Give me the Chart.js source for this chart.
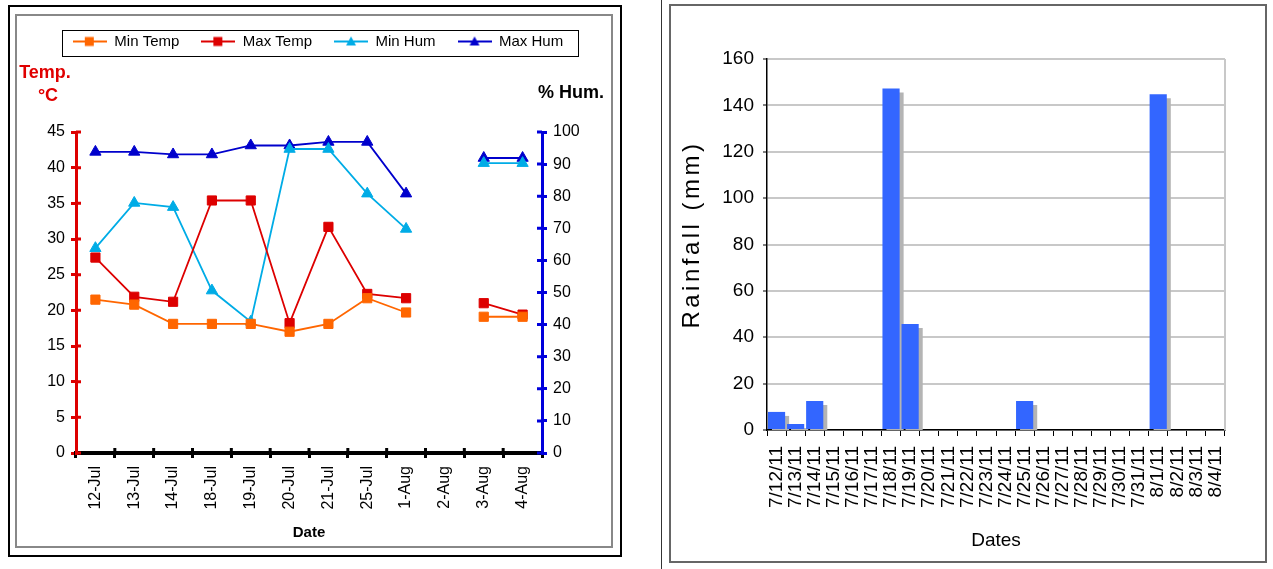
<!DOCTYPE html>
<html>
<head>
<meta charset="utf-8">
<script src="https://cdn.jsdelivr.net/npm/chart.js@4.4.9/dist/chart.umd.min.js"></script>
<style>
  body { margin: 0; background: #fff; width: 1273px; height: 569px; position: relative; overflow: hidden; }
  .box { position: absolute; box-sizing: border-box; }
  #leftOuter { left: 8px; top: 5px; width: 614px; height: 552px; border: 2px solid #000; }
  #leftInner { left: 15px; top: 14px; width: 598px; height: 534px; border: 2px solid #888; }
  #rightLine { left: 661px; top: 0; width: 1px; height: 569px; background: #333; }
  #rightInner { left: 669px; top: 4px; width: 598px; height: 559px; border: 2px solid #666; }
  #tempWrap { position: absolute; left: 0; top: 0; }
  #rainWrap { position: absolute; left: 671px; top: 6px; }
</style>
</head>
<body>
<div class="box" id="leftOuter"></div>
<div class="box" id="leftInner"></div>
<div class="box" id="rightLine"></div>
<div class="box" id="rightInner"></div>
<div id="tempWrap"><canvas id="tempChart" width="630" height="569"></canvas></div>
<div id="rainWrap"><canvas id="rainChart" width="594" height="555"></canvas></div>
<script>
// left chart: temperature / humidity
const tempDates = ["12-Jul", "13-Jul", "14-Jul", "18-Jul", "19-Jul", "20-Jul", "21-Jul", "25-Jul", "1-Aug", "2-Aug", "3-Aug", "4-Aug"];
const minTemp = [21.5, 20.8, 18.1, 18.1, 18.1, 17.0, 18.1, 21.7, 19.7, null, 19.1, 19.1];
const maxTemp = [27.4, 21.9, 21.2, 35.4, 35.4, 18.2, 31.7, 22.3, 21.7, null, 21.0, 19.4];
const minHum = [63.8, 77.9, 76.6, 50.6, 40.9, 94.7, 94.7, 80.8, 69.8, null, 90.3, 90.3];
const maxHum = [93.8, 93.8, 93.0, 93.0, 95.8, 95.8, 96.9, 96.9, 80.8, null, 91.9, 91.9];
const tempTitle = ["Temp.", "°C"];
const humTitle = "% Hum.";

// right chart: rainfall
const rainDates = ["7/12/11", "7/13/11", "7/14/11", "7/15/11", "7/16/11", "7/17/11", "7/18/11", "7/19/11",
  "7/20/11", "7/21/11", "7/22/11", "7/23/11", "7/24/11", "7/25/11", "7/26/11", "7/27/11", "7/28/11",
  "7/29/11", "7/30/11", "7/31/11", "8/1/11", "8/2/11", "8/3/11", "8/4/11"];
const rainfall = [7.8, 2.6, 12.5, 0, 0, 0, 147.3, 45.7, 0, 0, 0, 0, 0, 12.5, 0, 0, 0, 0, 0, 0, 144.8, 0, 0, 0];

const ORANGE = "rgb(255,102,0)";
const RED = "rgb(221,0,0)";
const LIGHTBLUE = "rgb(0,172,230)";
const DARKBLUE = "rgb(0,0,204)";
const AXISBLUE = "rgb(0,0,220)";

Chart.defaults.font.family = "'Liberation Sans', Arial, sans-serif";
Chart.defaults.color = "#000";

function legendIcon(color, style) {
  const c = document.createElement("canvas");
  c.width = 34;
  c.height = 14;
  const g = c.getContext("2d");
  g.strokeStyle = color;
  g.lineWidth = 2;
  g.beginPath();
  g.moveTo(0, 7);
  g.lineTo(34, 7);
  g.stroke();
  g.fillStyle = color;
  if (style === "rect") {
    g.fillRect(12, 2.5, 9, 9);
  } else {
    g.beginPath();
    g.moveTo(17, 2);
    g.lineTo(22, 11);
    g.lineTo(12, 11);
    g.closePath();
    g.fill();
  }
  return c;
}

const icons = [legendIcon(ORANGE, "rect"), legendIcon(RED, "rect"), legendIcon(LIGHTBLUE, "tri"), legendIcon(DARKBLUE, "tri")];

// box around the legend row
const legendFrame = {
  id: "legendFrame",
  afterDraw(chart) {
    const boxes = chart.legend.legendHitBoxes;
    if (!boxes || !boxes.length) return;
    const first = boxes[0];
    const last = boxes[boxes.length - 1];
    const cy = first.top + first.height / 2 + 1;
    const ctx = chart.ctx;
    ctx.save();
    ctx.strokeStyle = "#000";
    ctx.lineWidth = 1;
    ctx.strokeRect(Math.round(first.left - 11) + 0.5, Math.round(cy - 13) + 0.5, Math.round(last.left + last.width + 15 - (first.left - 11)), 26);
    ctx.restore();
  }
};

// titles sitting above the two value axes
const axisHeads = {
  id: "axisHeads",
  afterDraw(chart) {
    const ctx = chart.ctx;
    const a = chart.chartArea;
    ctx.save();
    ctx.font = "bold 18px 'Liberation Sans', Arial, sans-serif";
    ctx.textAlign = "center";
    ctx.textBaseline = "middle";
    ctx.fillStyle = "rgb(224,0,0)";
    ctx.fillText(tempTitle[0], a.left - 31, a.top - 59);
    ctx.fillText(tempTitle[1], a.left - 28, a.top - 36);
    ctx.fillStyle = "#000";
    ctx.fillText(humTitle, a.right + 29, a.top - 39);
    ctx.restore();
  }
};

// tick marks on the inner side of the axes
const innerTicks = {
  id: "innerTicks",
  beforeDatasetsDraw(chart) {
    const ctx = chart.ctx;
    const { x, y, y1 } = chart.scales;
    ctx.save();
    ctx.lineWidth = 3;
    ctx.beginPath();
    ctx.strokeStyle = RED;
    y.ticks.forEach((t, i) => {
      const py = y.getPixelForTick(i);
      ctx.moveTo(y.right, py);
      ctx.lineTo(y.right + 5, py);
    });
    ctx.stroke();
    ctx.beginPath();
    ctx.strokeStyle = AXISBLUE;
    y1.ticks.forEach((t, i) => {
      const py = y1.getPixelForTick(i);
      ctx.moveTo(y1.left - 5, py);
      ctx.lineTo(y1.left, py);
    });
    ctx.stroke();
    ctx.beginPath();
    ctx.strokeStyle = "#000";
    const n = x.ticks.length;
    for (let i = 1; i < n; i++) {
      const px = x.left + (i * x.width) / n;
      ctx.moveTo(px, x.top - 5);
      ctx.lineTo(px, x.top);
    }
    ctx.stroke();
    ctx.restore();
  }
};

function lineSet(label, data, color, style, axis) {
  return {
    label: label,
    data: data,
    yAxisID: axis,
    borderColor: color,
    backgroundColor: color,
    borderWidth: 1.8,
    pointStyle: style,
    pointRadius: 6.5,
    pointBorderWidth: 1,
    pointBorderColor: color,
    pointBackgroundColor: color,
    spanGaps: false,
    tension: 0
  };
}

new Chart(document.getElementById("tempChart"), {
  type: "line",
  data: {
    labels: tempDates,
    datasets: [
      lineSet("Min Temp", minTemp, ORANGE, "rect", "y"),
      lineSet("Max Temp", maxTemp, RED, "rect", "y"),
      lineSet("Min Hum", minHum, LIGHTBLUE, "triangle", "y1"),
      lineSet("Max Hum", maxHum, DARKBLUE, "triangle", "y1")
    ]
  },
  options: {
    responsive: false,
    animation: false,
    layout: { padding: { top: 12, left: 18, right: 12, bottom: 16 } },
    plugins: {
      legend: {
        position: "top",
        labels: {
          usePointStyle: true,
          pointStyleWidth: 34,
          padding: 22,
          font: { size: 15 },
          color: "#000",
          generateLabels(chart) {
            const items = Chart.defaults.plugins.legend.labels.generateLabels(chart);
            items.forEach((it, i) => { it.pointStyle = icons[i]; });
            return items;
          }
        }
      },
      title: { display: true, text: "", weight: 500, font: { size: 10 }, padding: { top: 61, bottom: 0 } },
      tooltip: { enabled: false }
    },
    scales: {
      x: {
        offset: true,
        grid: { display: true, drawOnChartArea: false, offset: true, tickLength: 5, color: "#000", lineWidth: 3 },
        border: { color: "#000", width: 4 },
        ticks: { autoSkip: false, minRotation: 90, maxRotation: 90, padding: 8, font: { size: 16 }, color: "#000" },
        title: { display: true, text: "Date", font: { size: 15, weight: "bold" }, color: "#000", padding: { top: 0, bottom: 11 } },
        afterFit(s) { s.height = 100; }
      },
      y: {
        position: "left",
        min: 0,
        max: 45,
        ticks: { stepSize: 5, padding: 6, font: { size: 16 }, color: "#000" },
        grid: { drawOnChartArea: false, tickLength: 5, color: RED, lineWidth: 3 },
        border: { color: RED, width: 3 },
        afterFit(s) { s.width = 58; }
      },
      y1: {
        position: "right",
        min: 0,
        max: 100,
        ticks: { stepSize: 10, padding: 6, font: { size: 16 }, color: "#000" },
        grid: { drawOnChartArea: false, tickLength: 5, color: AXISBLUE, lineWidth: 3 },
        border: { color: AXISBLUE, width: 3 },
        afterFit(s) { s.width = 76; }
      }
    }
  },
  plugins: [legendFrame, axisHeads, innerTicks]
});

// right edge of the plot and spaced-out y title
const rainExtras = {
  id: "rainExtras",
  beforeDatasetsDraw(chart) {
    const ctx = chart.ctx;
    const a = chart.chartArea;
    ctx.save();
    ctx.strokeStyle = "#c8c8c8";
    ctx.lineWidth = 2;
    ctx.beginPath();
    ctx.moveTo(a.right, a.top);
    ctx.lineTo(a.right, a.bottom);
    ctx.stroke();
    ctx.restore();
  },
  afterDraw(chart) {
    const ctx = chart.ctx;
    const y = chart.scales.y;
    ctx.save();
    ctx.translate(21, (y.top + y.bottom) / 2 - 10);
    ctx.rotate(-Math.PI / 2);
    ctx.font = "24px 'Liberation Sans', Arial, sans-serif";
    ctx.letterSpacing = "3.5px";
    ctx.textAlign = "center";
    ctx.textBaseline = "middle";
    ctx.fillStyle = "#000";
    ctx.fillText(y.options.title.text, 0, 0);
    ctx.restore();
  }
};

// grey drop shadow behind the bars
const barShadow = {
  id: "barShadow",
  beforeDatasetsDraw(chart) {
    const ctx = chart.ctx;
    ctx.save();
    ctx.shadowColor = "rgb(180,180,180)";
    ctx.shadowOffsetX = 4;
    ctx.shadowOffsetY = 4;
    ctx.shadowBlur = 0;
  },
  afterDatasetsDraw(chart) {
    chart.ctx.restore();
  }
};

new Chart(document.getElementById("rainChart"), {
  type: "bar",
  data: {
    labels: rainDates,
    datasets: [{
      label: "Rainfall",
      data: rainfall,
      backgroundColor: "rgb(51,102,255)",
      borderWidth: 0,
      barPercentage: 0.9,
      categoryPercentage: 1.0,
      clip: 0
    }]
  },
  options: {
    responsive: false,
    animation: false,
    layout: { padding: { top: 53, left: 0, right: 40, bottom: 6 } },
    plugins: { legend: { display: false }, tooltip: { enabled: false } },
    scales: {
      x: {
        grid: { display: true, drawOnChartArea: false, offset: true, tickLength: 6, color: "#000", lineWidth: 1 },
        border: { color: "#000", width: 1.5 },
        ticks: { autoSkip: false, minRotation: 90, maxRotation: 90, padding: 10, font: { size: 19 }, color: "#000" },
        title: { display: true, text: "Dates", font: { size: 19 }, color: "#000", padding: { top: 0, bottom: 3 } },
        afterFit(s) { s.height = 125; }
      },
      y: {
        min: 0,
        max: 160,
        ticks: { stepSize: 20, padding: 9, font: { size: 19 }, color: "#000" },
        grid: { color: "#c8c8c8", lineWidth: 2, tickLength: 4, tickColor: "#000", tickWidth: 1 },
        border: { color: "#000", width: 1.5 },
        title: { display: false, text: "Rainfall (mm)" },
        afterFit(s) { s.width = 96; }
      }
    }
  },
  plugins: [rainExtras, barShadow]
});
</script>
</body>
</html>
